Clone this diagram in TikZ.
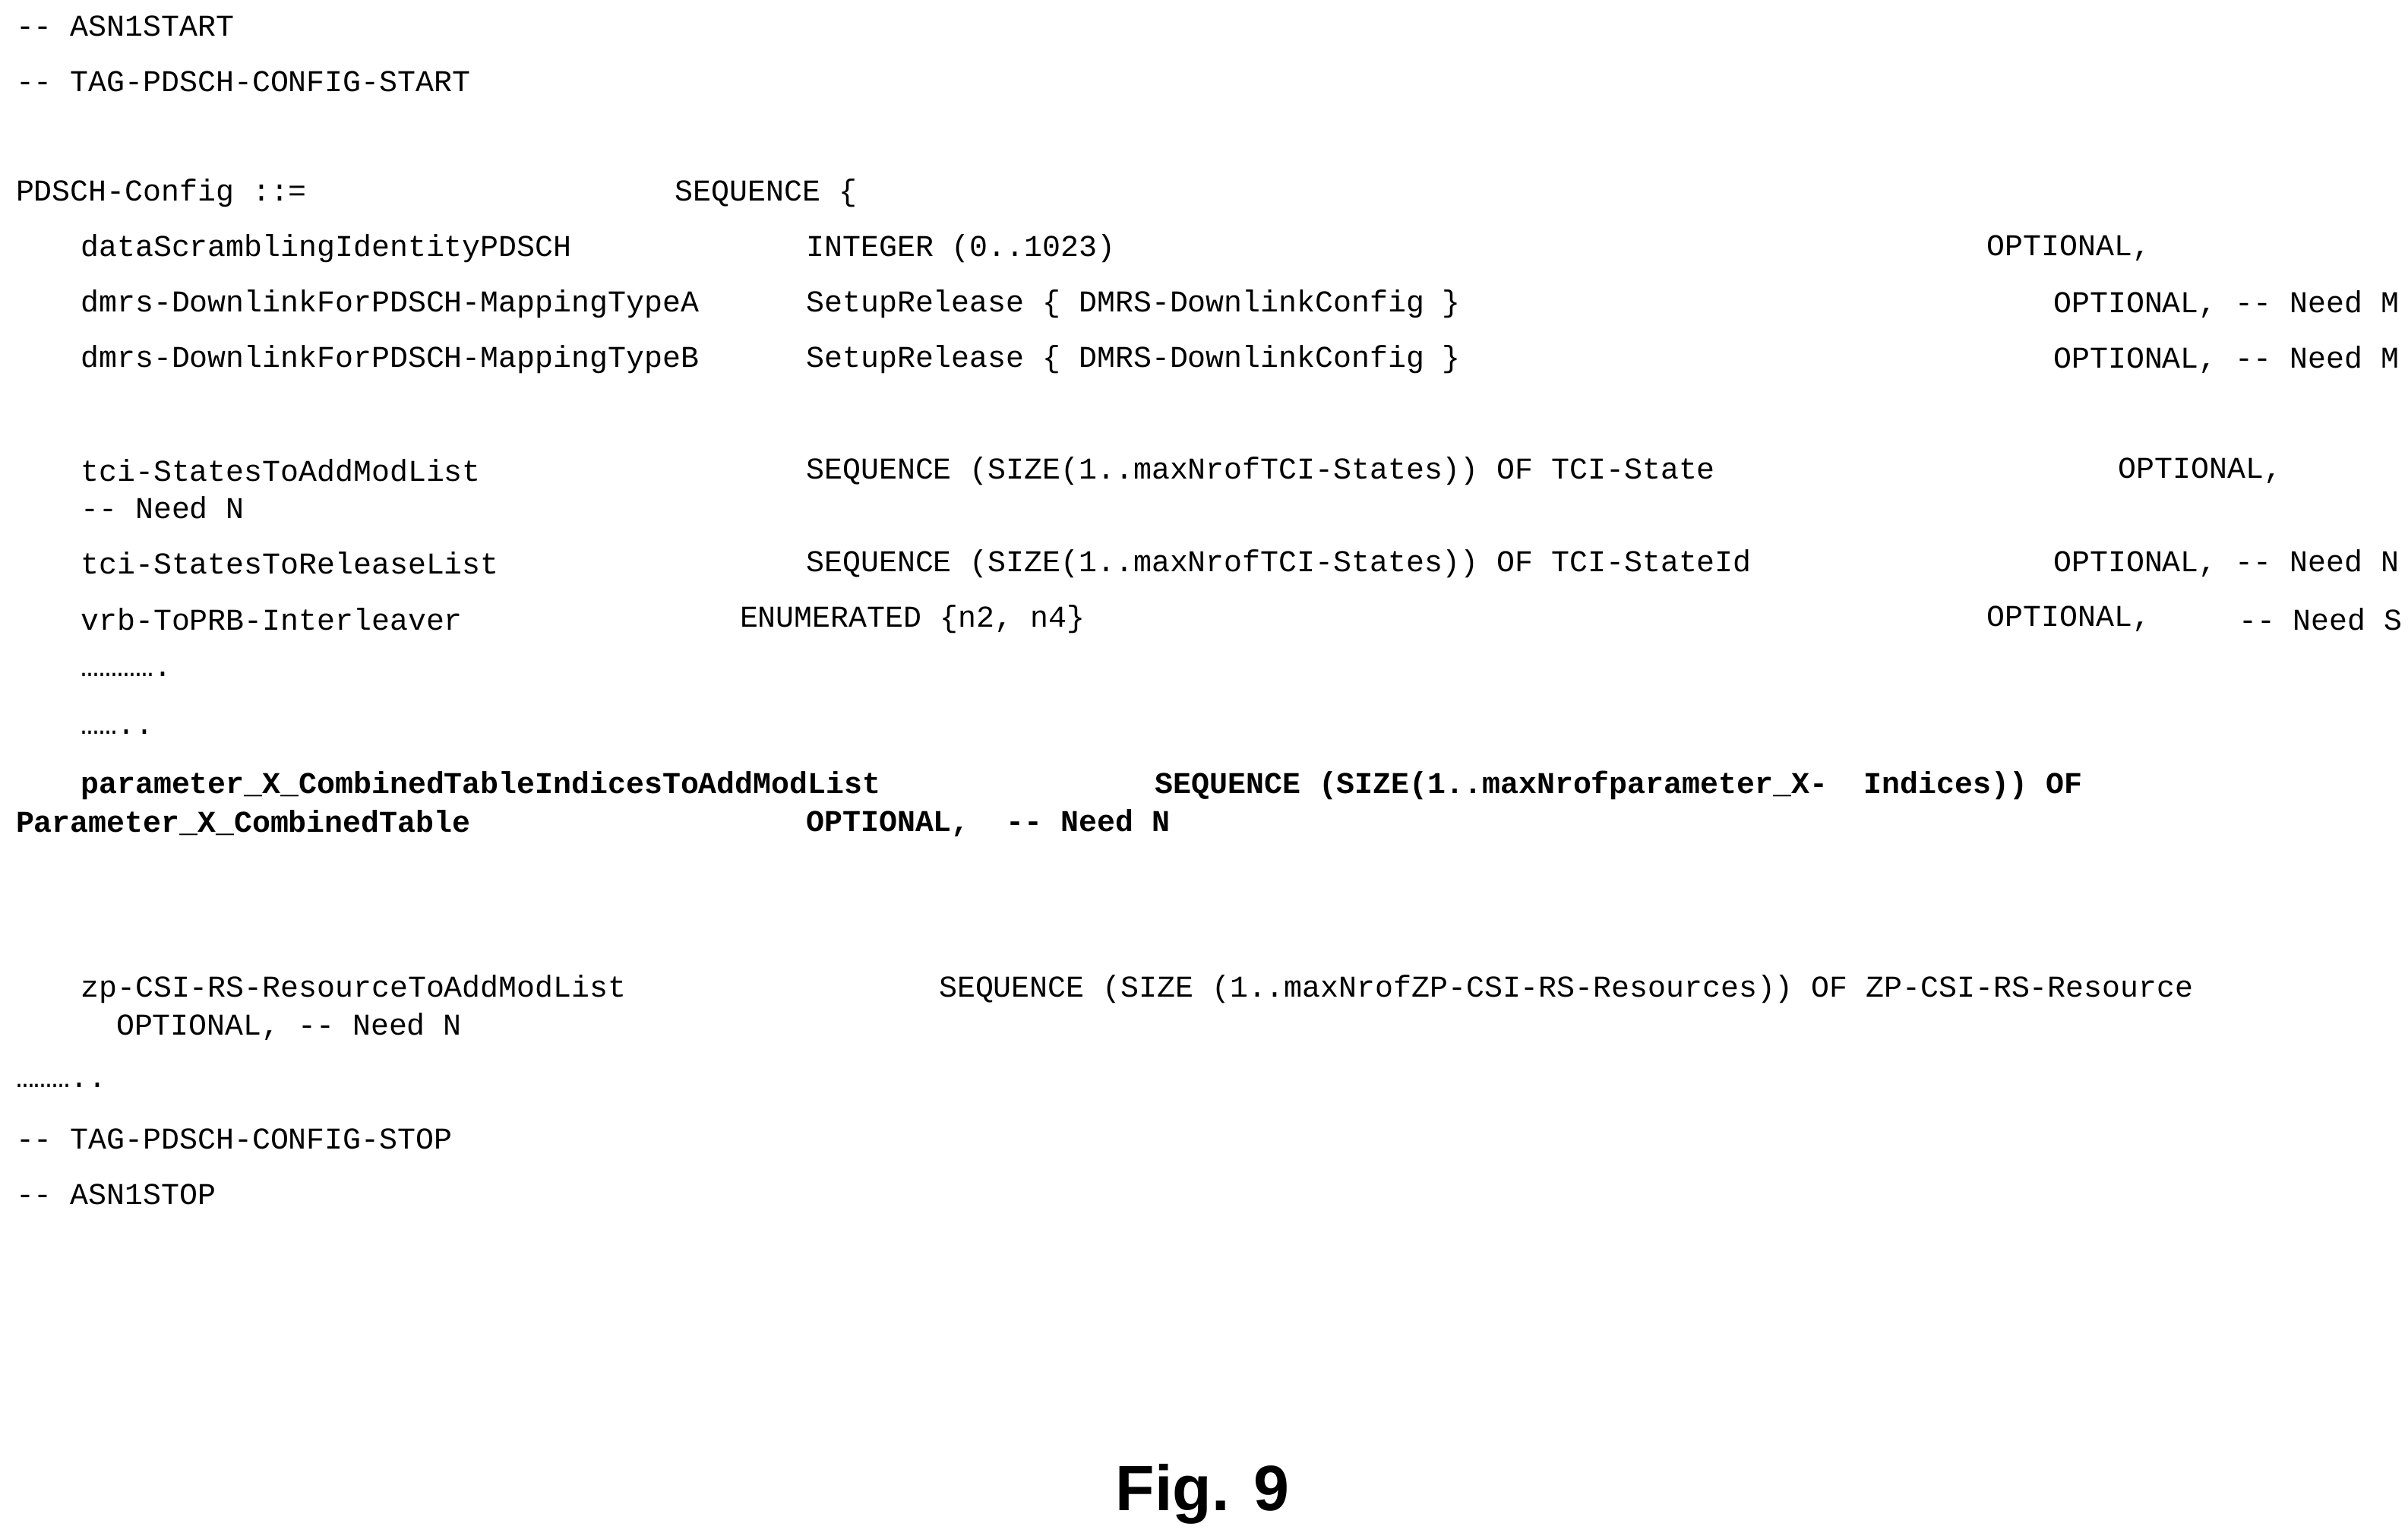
\documentclass[tikz,border=0pt]{standalone}
\usepackage{fontspec}
\setmonofont{Liberation Mono}
\setsansfont{Liberation Sans}
\begin{document}
\begin{tikzpicture}[x=0.02032cm,y=-0.02032cm,
  t/.style={anchor=west,inner sep=0pt,font=\ttfamily\fontsize{11.35}{13}\selectfont},
  tb/.style={t,font=\ttfamily\bfseries\fontsize{11.35}{13}\selectfont}]
\useasboundingbox[fill=white] (0,0) rectangle (1560,995);
\node[t] (l1) at (10,17) {-- ASN1START};
\node[t] (l2) at (10,53) {-- TAG-PDSCH-CONFIG-START};
\node[t] (a1) at (10,125) {PDSCH-Config ::=};
\node[t] (a2) at (437,125) {SEQUENCE \{};
\node[t] (b1) at (52,161) {dataScramblingIdentityPDSCH};
\node[t] (b2) at (522,161) {INTEGER (0..1023)};
\node[t] (b3) at (1287,161) {OPTIONAL,};
\node[t] (c1) at (52,197) {dmrs-DownlinkForPDSCH-MappingTypeA};
\node[t] (c2) at (522,197) {SetupRelease \{ DMRS-DownlinkConfig \}};
\node[t] (c3) at (1330,197) {OPTIONAL, -- Need M};
\node[t] (d1) at (52,233) {dmrs-DownlinkForPDSCH-MappingTypeB};
\node[t] (d2) at (522,233) {SetupRelease \{ DMRS-DownlinkConfig \}};
\node[t] (d3) at (1330,233) {OPTIONAL, -- Need M};
\node[t] (e1) at (52,305) {tci-StatesToAddModList};
\node[t] (e2) at (522,305) {SEQUENCE (SIZE(1..maxNrofTCI-States)) OF TCI-State};
\node[t] (e3) at (1372,305) {OPTIONAL,};
\node[t] (e4) at (52,329) {-- Need N};
\node[t] (f1) at (52,365) {tci-StatesToReleaseList};
\node[t] (f2) at (522,365) {SEQUENCE (SIZE(1..maxNrofTCI-States)) OF TCI-StateId};
\node[t] (f3) at (1330,365) {OPTIONAL, -- Need N};
\node[t] (g1) at (52,401) {vrb-ToPRB-Interleaver};
\node[t] (g2) at (479,401) {ENUMERATED \{n2, n4\}};
\node[t] (g3) at (1287,401) {OPTIONAL,};
\node[t] (g4) at (1450,401) {-- Need S};
\node[t] (h1) at (52,437) {………….};
\node[t] (h2) at (52,474) {…….{.}};
\node[tb] (i1) at (52,509) {parameter\_X\_CombinedTableIndicesToAddModList};
\node[tb] (i2) at (748,509) {SEQUENCE (SIZE(1..maxNrofparameter\_X-~ Indices)) OF};
\node[tb] (i3) at (10,533) {Parameter\_X\_CombinedTable};
\node[tb] (i4) at (522,533) {OPTIONAL,~ -- Need N};
\node[t] (j1) at (52,641) {zp-CSI-RS-ResourceToAddModList};
\node[t] (j2) at (608,641) {SEQUENCE (SIZE (1..maxNrofZP-CSI-RS-Resources)) OF ZP-CSI-RS-Resource};
\node[t] (j3) at (75,665) {OPTIONAL, -- Need N};
\node[t] (k1) at (10,703) {……….{.}};
\node[t] (l3) at (10,738) {-- TAG-PDSCH-CONFIG-STOP};
\node[t] (l4) at (10,774) {-- ASN1STOP};
\node[inner sep=0pt,font=\sffamily\bfseries\fontsize{24}{28}\selectfont] (fig) at (779,968) {Fig. 9};
\end{tikzpicture}
\end{document}
